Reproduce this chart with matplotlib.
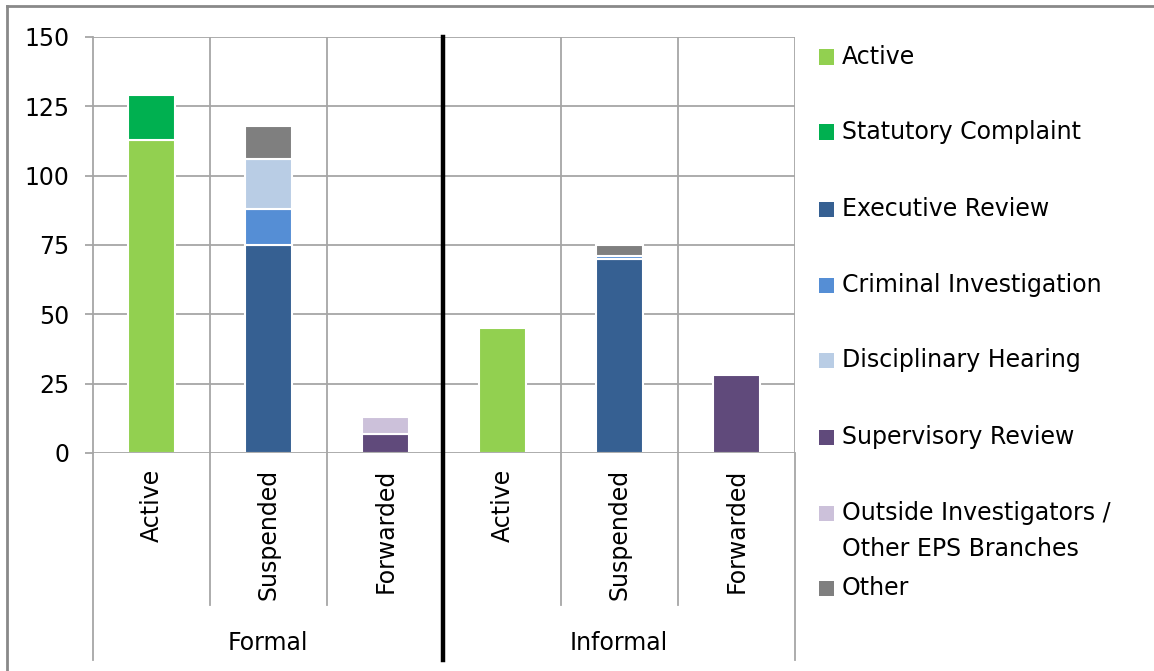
import numpy as np
import matplotlib.pyplot as plt
from matplotlib.lines import Line2D
from matplotlib.patches import Rectangle

# =============================================================================
# Данные
# =============================================================================
groups = ['Formal', 'Informal']
statuses = ['Active', 'Suspended', 'Forwarded']

series_names = ['Active', 'Statutory Complaint', 'Executive Review',
                'Criminal Investigation', 'Disciplinary Hearing',
                'Supervisory Review',
                'Outside Investigators /\nOther EPS Branches', 'Other']
series_colors = ['#92D050', '#00B050', '#366092', '#558ED5',
                 '#B9CDE5', '#604A7B', '#CCC1DA', '#7F7F7F']

# порядок столбцов: Formal Active, Suspended, Forwarded, Informal Active, Suspended, Forwarded
active = [113, 0, 0, 45, 0, 0]
statutory = [16, 0, 0, 0, 0, 0]
executive = [0, 75, 0, 0, 70, 0]
criminal = [0, 13, 0, 0, 1, 0]
disciplinary = [0, 18, 0, 0, 0, 0]
supervisory = [0, 0, 7, 0, 0, 28]
outside = [0, 0, 6, 0, 0, 0]
other = [0, 12, 0, 0, 4, 0]
series_values = [active, statutory, executive, criminal, disciplinary,
                 supervisory, outside, other]

yticks = [0, 25, 50, 75, 100, 125, 150]

# =============================================================================
# Рисунок
# =============================================================================
W, H = 1154, 671
FS = 17
fig = plt.figure(figsize=(W / 100, H / 100), dpi=100)
plt.rcParams['font.family'] = 'DejaVu Sans'


def fx(px):
    return px / W


def fy(py):
    return 1 - py / H


ax = fig.add_axes([fx(93), fy(453), fx(795) - fx(93), fy(37) - fy(453)])
n = len(groups) * len(statuses)
x = np.arange(n)
grid_c = '#A6A6A6'

bottom = np.zeros(n)
for vals, color in zip(series_values, series_colors):
    vals = np.array(vals, dtype=float)
    mask = vals > 0
    ax.bar(x[mask], vals[mask], bottom=bottom[mask], width=0.4, color=color,
           edgecolor='white', linewidth=1.5, zorder=3)
    bottom += vals

ax.set_xlim(-0.5, n - 0.5)
ax.set_ylim(0, 150)
ax.set_yticks(yticks)
ax.set_yticklabels([str(t) for t in yticks], fontsize=FS)
ax.set_xticks([])
for s in ['top', 'right', 'bottom']:
    ax.spines[s].set_visible(False)
ax.spines['left'].set_color(grid_c)
ax.spines['left'].set_linewidth(1.3)
ax.tick_params(axis='y', length=6, width=1.3, color=grid_c, pad=11)

for t in yticks[1:]:
    ax.axhline(t, color=grid_c, linewidth=1.3, zorder=1)
ax.axhline(0, color=grid_c, linewidth=1.3, zorder=4)

# вертикальные разделители категорий
for i in range(1, n + 1):
    xb = i - 0.5
    xp = 93 + (795 - 93) * i / n
    if i == 3:
        continue
    ax.axvline(xb, color=grid_c, linewidth=1.3, zorder=1)
    low = 660 if i == n else 605
    fig.add_artist(Line2D([fx(xp), fx(xp)], [fy(453), fy(low)], color=grid_c, linewidth=1.3))

fig.add_artist(Line2D([fx(93), fx(93)], [fy(453), fy(660)], color=grid_c, linewidth=1.3))
fig.add_artist(Line2D([fx(443), fx(443)], [fy(37), fy(660)], color='black', linewidth=3.2, zorder=5))

# подписи категорий
for i in range(n):
    xp = 93 + (795 - 93) * (i + 0.5) / n
    fig.text(fx(xp), fy(469), statuses[i % 3], rotation=90, ha='center', va='top', fontsize=FS)
for g, (a, b) in zip(groups, [(93, 443), (443, 795)]):
    fig.text(fx((a + b) / 2), fy(643), g, ha='center', va='center', fontsize=FS)

# легенда
legend_y = [57, 132, 209, 285, 360, 437, 513, 588]
for name, color, yp in zip(series_names, series_colors, legend_y):
    fig.add_artist(Rectangle((fx(819), fy(yp + 7.5)), fx(15), 15 / H, facecolor=color,
                             edgecolor='none', transform=fig.transFigure))
    fig.text(fx(842), fy(yp), name.split('\n')[0], ha='left', va='center', fontsize=FS)
    if '\n' in name:
        fig.text(fx(842), fy(yp + 36), name.split('\n')[1], ha='left', va='center', fontsize=FS)

# рамка
fig.add_artist(Line2D([fx(7), 1], [fy(6), fy(6)], color='#898989', linewidth=2))
fig.add_artist(Line2D([fx(7), fx(7)], [fy(6), 0], color='#898989', linewidth=2))

fig.savefig('out.png', dpi=100)
